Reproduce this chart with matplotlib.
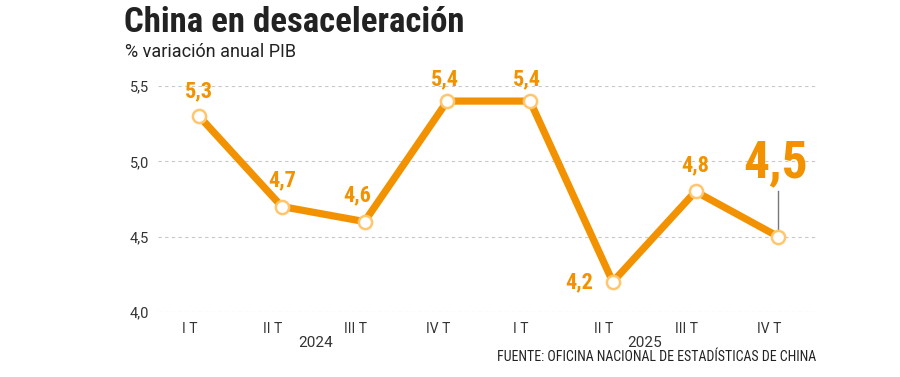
import matplotlib
matplotlib.use("Agg")
import matplotlib.pyplot as plt
import matplotlib.transforms as mtransforms

# datos: variación anual del PIB de China (%)
trimestres = ["I T", "II T", "III T", "IV T", "I T", "II T", "III T", "IV T"]
pib = [5.3, 4.7, 4.6, 5.4, 5.4, 4.2, 4.8, 4.5]
etiquetas = ["5,3", "4,7", "4,6", "5,4", "5,4", "4,2", "4,8", "4,5"]
anios = ["2024", "2025"]
yticks = [4.0, 4.5, 5.0, 5.5]
ytick_labels = ["4,0", "4,5", "5,0", "5,5"]

naranja = "#F39200"
borde = "#FFC66E"
gris = "#333333"

fig = plt.figure(figsize=(9, 3.77), dpi=100)
ax = fig.add_axes([158/900, 1-312/377, (818-158)/900, (312-86)/377])

x = list(range(len(pib)))
ax.plot(x, pib, color=naranja, lw=5.2, solid_capstyle="butt", zorder=3, clip_on=False)
ax.plot(x, pib, "o", ms=9.5, mfc="white", mec=borde, mew=1.8, zorder=4, clip_on=False)

ax.set_xlim(-0.496, 7.48)
ax.set_ylim(4.0, 5.5)
ax.set_yticks(yticks)
ax.set_yticklabels(ytick_labels, family="Roboto", fontsize=10.5, color=gris)
ax.set_xticks(x)
ax.set_xticklabels(trimestres, family="Roboto", fontsize=10, color=gris)
ax.tick_params(length=0, axis="y", pad=6.5)
ax.tick_params(length=0, axis="x", pad=7)
# las etiquetas de trimestre van algo desplazadas a la izquierda
shift = mtransforms.ScaledTranslation(-9/100, 0, fig.dpi_scale_trans)
for lbl in ax.get_xticklabels():
    lbl.set_transform(lbl.get_transform() + shift)
for s in ax.spines.values():
    s.set_visible(False)
ax.grid(axis="y", ls=(0, (3, 3)), color="#c8c8c8", lw=0.8)
ax.set_axisbelow(True)

# etiquetas de valor
desp = [(0, 18), (0, 19), (-5, 19), (-2, 16), (-2, 16), (-24, 0), (0, 19)]
for i in range(7):
    dx, dy = desp[i]
    ax.annotate(etiquetas[i], (x[i], pib[i]), xytext=(dx, dy), textcoords="offset points",
                ha="center", va="center", family="Roboto Condensed", weight="bold",
                fontsize=16, color=naranja, zorder=5)

# último dato destacado
ax.annotate(etiquetas[7], (x[7], pib[7]), xytext=(-2, 53), textcoords="offset points",
            ha="center", va="center", family="Roboto Condensed", weight="bold",
            fontsize=37, color=naranja, zorder=5)
ax.plot([x[7], x[7]], [pib[7] + 0.04, pib[7] + 0.3], color="#777777", lw=1, zorder=2)

# años
ax.text(1.41, -0.135, anios[0], transform=ax.get_xaxis_transform(), ha="center", va="center",
        family="Roboto", fontsize=11, color=gris)
ax.text(5.39, -0.135, anios[1], transform=ax.get_xaxis_transform(), ha="center", va="center",
        family="Roboto", fontsize=11, color=gris)

fig.text(124/900, 1-23/377, "China en desaceleración", family="Roboto Condensed", weight="bold",
         fontsize=25, color="#222222", va="center", ha="left")
fig.text(125/900, 1-52/377, "% variación anual PIB", family="Roboto", fontsize=13,
         color="#222222", va="center", ha="left")
fig.text(816/900, 1-357/377, "FUENTE: OFICINA NACIONAL DE ESTADÍSTICAS DE CHINA",
         family="Roboto Condensed", fontsize=10, color="#222222", va="center", ha="right")

fig.savefig("out.png", dpi=100)
